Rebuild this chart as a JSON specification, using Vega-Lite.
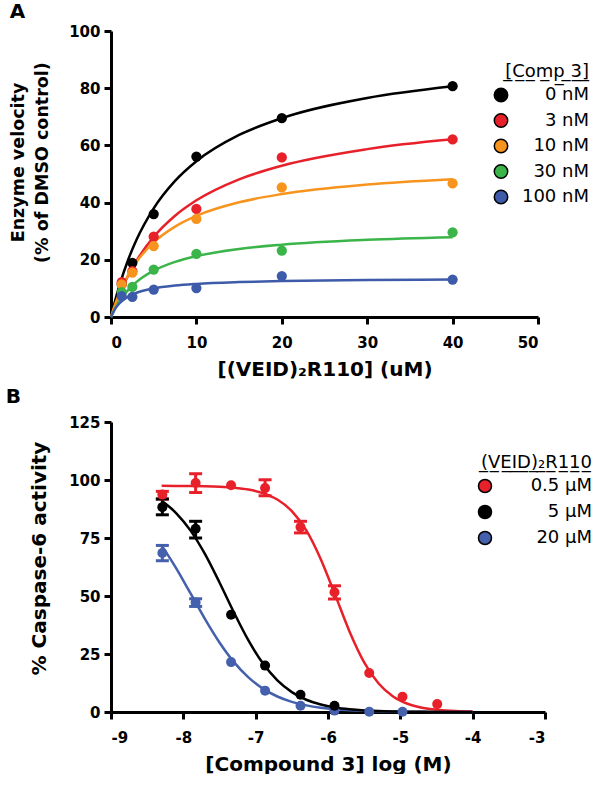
{
  "$schema": "https://vega.github.io/schema/vega-lite/v6.json",
  "padding": {"left": 5, "top": 2, "right": 0, "bottom": 0},
  "background": "white",
  "spacing": 8,
  "resolve": {"scale": {"color": "independent", "fill": "independent"}, "legend": {"color": "independent", "fill": "independent"}},
  "config": {
    "view": {"stroke": null},
    "axis": {
      "grid": false,
      "domainColor": "black", "domainWidth": 3,
      "tickColor": "black", "tickWidth": 3, "tickSize": 7,
      "labelFont": "DejaVu Sans", "labelFontWeight": "bold", "labelFontSize": 15, "labelColor": "black", "labelPadding": 4,
      "titleFont": "DejaVu Sans", "titleFontWeight": "bold", "titleFontSize": 20, "titleColor": "black"
    },
    "axisX": {"labelPadding": 11, "titlePadding": 9},
    "legend": {
      "labelFont": "DejaVu Sans", "labelFontSize": 18, "labelColor": "black",
      "titleFont": "DejaVu Sans", "titleFontWeight": "normal", "titleFontSize": 18, "titleColor": "black"
    },
    "title": {"font": "DejaVu Sans", "fontSize": 20, "fontWeight": "bold", "color": "black", "anchor": "start"}
  },
  "datasets": {
    "curvesA": [
      {"s":0,"v":0,"cc":"0 nM"},{"s":0.5,"v":5.90,"cc":"0 nM"},{"s":1,"v":11.11,"cc":"0 nM"},{"s":2,"v":19.92,"cc":"0 nM"},{"s":3,"v":27.07,"cc":"0 nM"},{"s":5,"v":37.98,"cc":"0 nM"},{"s":7.5,"v":47.57,"cc":"0 nM"},{"s":10,"v":54.45,"cc":"0 nM"},{"s":15,"v":63.64,"cc":"0 nM"},{"s":20,"v":69.51,"cc":"0 nM"},{"s":30,"v":76.57,"cc":"0 nM"},{"s":40,"v":80.67,"cc":"0 nM"},
      {"s":0,"v":0,"cc":"3 nM"},{"s":0.5,"v":4.21,"cc":"3 nM"},{"s":1,"v":7.97,"cc":"3 nM"},{"s":2,"v":14.42,"cc":"3 nM"},{"s":3,"v":19.74,"cc":"3 nM"},{"s":5,"v":28.00,"cc":"3 nM"},{"s":7.5,"v":35.40,"cc":"3 nM"},{"s":10,"v":40.80,"cc":"3 nM"},{"s":15,"v":48.14,"cc":"3 nM"},{"s":20,"v":52.90,"cc":"3 nM"},{"s":30,"v":58.70,"cc":"3 nM"},{"s":40,"v":62.11,"cc":"3 nM"},
      {"s":0,"v":0,"cc":"10 nM"},{"s":0.5,"v":4.57,"cc":"10 nM"},{"s":1,"v":8.43,"cc":"10 nM"},{"s":2,"v":14.61,"cc":"10 nM"},{"s":3,"v":19.34,"cc":"10 nM"},{"s":5,"v":26.10,"cc":"10 nM"},{"s":7.5,"v":31.62,"cc":"10 nM"},{"s":10,"v":35.35,"cc":"10 nM"},{"s":15,"v":40.10,"cc":"10 nM"},{"s":20,"v":42.98,"cc":"10 nM"},{"s":30,"v":46.31,"cc":"10 nM"},{"s":40,"v":48.18,"cc":"10 nM"},
      {"s":0,"v":0,"cc":"30 nM"},{"s":0.5,"v":3.05,"cc":"30 nM"},{"s":1,"v":5.55,"cc":"30 nM"},{"s":2,"v":9.42,"cc":"30 nM"},{"s":3,"v":12.28,"cc":"30 nM"},{"s":5,"v":16.20,"cc":"30 nM"},{"s":7.5,"v":19.28,"cc":"30 nM"},{"s":10,"v":21.30,"cc":"30 nM"},{"s":15,"v":23.80,"cc":"30 nM"},{"s":20,"v":25.28,"cc":"30 nM"},{"s":30,"v":26.97,"cc":"30 nM"},{"s":40,"v":27.89,"cc":"30 nM"},
      {"s":0,"v":0,"cc":"100 nM"},{"s":0.5,"v":2.93,"cc":"100 nM"},{"s":1,"v":4.82,"cc":"100 nM"},{"s":2,"v":7.14,"cc":"100 nM"},{"s":3,"v":8.49,"cc":"100 nM"},{"s":5,"v":10.01,"cc":"100 nM"},{"s":7.5,"v":11.00,"cc":"100 nM"},{"s":10,"v":11.57,"cc":"100 nM"},{"s":15,"v":12.20,"cc":"100 nM"},{"s":20,"v":12.55,"cc":"100 nM"},{"s":30,"v":12.91,"cc":"100 nM"},{"s":40,"v":13.10,"cc":"100 nM"}
    ],
    "pointsA": [
      {"s":1.25,"v":11.5,"c":"0 nM"},{"s":2.5,"v":18.9,"c":"0 nM"},{"s":5,"v":36.0,"c":"0 nM"},{"s":10,"v":56.1,"c":"0 nM"},{"s":20,"v":69.5,"c":"0 nM"},{"s":40,"v":80.7,"c":"0 nM"},
      {"s":1.25,"v":12.2,"c":"3 nM"},{"s":2.5,"v":16.0,"c":"3 nM"},{"s":5,"v":28.1,"c":"3 nM"},{"s":10,"v":37.8,"c":"3 nM"},{"s":20,"v":55.8,"c":"3 nM"},{"s":40,"v":62.1,"c":"3 nM"},
      {"s":1.25,"v":11.4,"c":"10 nM"},{"s":2.5,"v":15.5,"c":"10 nM"},{"s":5,"v":24.8,"c":"10 nM"},{"s":10,"v":34.3,"c":"10 nM"},{"s":20,"v":45.3,"c":"10 nM"},{"s":40,"v":46.7,"c":"10 nM"},
      {"s":1.25,"v":8.7,"c":"30 nM"},{"s":2.5,"v":10.5,"c":"30 nM"},{"s":5,"v":16.6,"c":"30 nM"},{"s":10,"v":22.1,"c":"30 nM"},{"s":20,"v":23.2,"c":"30 nM"},{"s":40,"v":29.6,"c":"30 nM"},
      {"s":1.25,"v":7.3,"c":"100 nM"},{"s":2.5,"v":7.0,"c":"100 nM"},{"s":5,"v":9.6,"c":"100 nM"},{"s":10,"v":10.1,"c":"100 nM"},{"s":20,"v":14.3,"c":"100 nM"},{"s":40,"v":13.1,"c":"100 nM"}
    ],
    "curvesB": [
      {"x":-8.3,"y":97.47,"gg":"0.5 μM"},{"x":-8.1,"y":97.44,"gg":"0.5 μM"},{"x":-7.9,"y":97.39,"gg":"0.5 μM"},{"x":-7.7,"y":97.28,"gg":"0.5 μM"},{"x":-7.5,"y":97.07,"gg":"0.5 μM"},{"x":-7.3,"y":96.66,"gg":"0.5 μM"},{"x":-7.1,"y":95.87,"gg":"0.5 μM"},{"x":-6.9,"y":94.37,"gg":"0.5 μM"},{"x":-6.7,"y":91.57,"gg":"0.5 μM"},{"x":-6.5,"y":86.57,"gg":"0.5 μM"},{"x":-6.3,"y":78.25,"gg":"0.5 μM"},{"x":-6.1,"y":65.88,"gg":"0.5 μM"},{"x":-5.9,"y":50.39,"gg":"0.5 μM"},{"x":-5.7,"y":34.53,"gg":"0.5 μM"},{"x":-5.5,"y":21.40,"gg":"0.5 μM"},{"x":-5.3,"y":12.29,"gg":"0.5 μM"},{"x":-5.1,"y":6.71,"gg":"0.5 μM"},{"x":-4.9,"y":3.56,"gg":"0.5 μM"},{"x":-4.7,"y":1.86,"gg":"0.5 μM"},{"x":-4.5,"y":0.96,"gg":"0.5 μM"},{"x":-4.3,"y":0.50,"gg":"0.5 μM"},{"x":-4.0,"y":0.18,"gg":"0.5 μM"},
      {"x":-8.3,"y":71.84,"gg":"20 μM"},{"x":-8.1,"y":62.03,"gg":"20 μM"},{"x":-7.9,"y":51.10,"gg":"20 μM"},{"x":-7.7,"y":40.06,"gg":"20 μM"},{"x":-7.5,"y":29.97,"gg":"20 μM"},{"x":-7.3,"y":21.48,"gg":"20 μM"},{"x":-7.1,"y":14.90,"gg":"20 μM"},{"x":-6.9,"y":10.07,"gg":"20 μM"},{"x":-6.7,"y":6.68,"gg":"20 μM"},{"x":-6.5,"y":4.38,"gg":"20 μM"},{"x":-6.3,"y":2.85,"gg":"20 μM"},{"x":-6.1,"y":1.84,"gg":"20 μM"},{"x":-5.9,"y":1.18,"gg":"20 μM"},{"x":-5.7,"y":0.76,"gg":"20 μM"},{"x":-5.5,"y":0.49,"gg":"20 μM"},{"x":-5.3,"y":0.31,"gg":"20 μM"},{"x":-5.1,"y":0.20,"gg":"20 μM"},{"x":-4.9,"y":0.13,"gg":"20 μM"},{"x":-4.7,"y":0.08,"gg":"20 μM"},{"x":-4.5,"y":0.05,"gg":"20 μM"},{"x":-4.3,"y":0.03,"gg":"20 μM"},{"x":-4.0,"y":0.02,"gg":"20 μM"},
      {"x":-8.3,"y":91.02,"gg":"5 μM"},{"x":-8.1,"y":85.76,"gg":"5 μM"},{"x":-7.9,"y":78.18,"gg":"5 μM"},{"x":-7.7,"y":68.03,"gg":"5 μM"},{"x":-7.5,"y":55.84,"gg":"5 μM"},{"x":-7.3,"y":42.90,"gg":"5 μM"},{"x":-7.1,"y":30.87,"gg":"5 μM"},{"x":-6.9,"y":20.98,"gg":"5 μM"},{"x":-6.7,"y":13.62,"gg":"5 μM"},{"x":-6.5,"y":8.57,"gg":"5 μM"},{"x":-6.3,"y":5.28,"gg":"5 μM"},{"x":-6.1,"y":3.21,"gg":"5 μM"},{"x":-5.9,"y":1.93,"gg":"5 μM"},{"x":-5.7,"y":1.16,"gg":"5 μM"},{"x":-5.5,"y":0.69,"gg":"5 μM"},{"x":-5.3,"y":0.41,"gg":"5 μM"},{"x":-5.1,"y":0.25,"gg":"5 μM"},{"x":-4.9,"y":0.15,"gg":"5 μM"},{"x":-4.7,"y":0.09,"gg":"5 μM"},{"x":-4.5,"y":0.05,"gg":"5 μM"},{"x":-4.3,"y":0.03,"gg":"5 μM"},{"x":-4.0,"y":0.01,"gg":"5 μM"}
    ],
    "pointsB": [
      {"x":-8.29,"y":93.7,"lo":91.8,"hi":95.1,"g":"0.5 μM"},{"x":-7.83,"y":98.7,"lo":94.6,"hi":102.7,"g":"0.5 μM"},{"x":-7.34,"y":97.7,"g":"0.5 μM"},{"x":-6.87,"y":96.5,"lo":93.2,"hi":100.1,"g":"0.5 μM"},{"x":-6.38,"y":79.7,"lo":77.2,"hi":82.2,"g":"0.5 μM"},{"x":-5.91,"y":51.6,"lo":48.7,"hi":54.4,"g":"0.5 μM"},{"x":-5.43,"y":16.8,"g":"0.5 μM"},{"x":-4.97,"y":6.6,"g":"0.5 μM"},{"x":-4.49,"y":3.4,"g":"0.5 μM"},
      {"x":-8.29,"y":68.5,"lo":65.2,"hi":71.8,"g":"20 μM"},{"x":-7.83,"y":47.2,"lo":45.5,"hi":48.8,"g":"20 μM"},{"x":-7.34,"y":21.5,"g":"20 μM"},{"x":-6.87,"y":9.2,"g":"20 μM"},{"x":-6.38,"y":2.7,"g":"20 μM"},{"x":-5.91,"y":0.6,"g":"20 μM"},{"x":-5.43,"y":0.1,"g":"20 μM"},{"x":-4.97,"y":0.1,"g":"20 μM"},
      {"x":-8.29,"y":88.3,"lo":85.0,"hi":91.8,"g":"5 μM"},{"x":-7.83,"y":79.0,"lo":75.0,"hi":82.2,"g":"5 μM"},{"x":-7.34,"y":41.9,"g":"5 μM"},{"x":-6.87,"y":20.0,"g":"5 μM"},{"x":-6.38,"y":7.4,"g":"5 μM"},{"x":-5.91,"y":2.7,"g":"5 μM"}
    ]
  },
  "vconcat": [
    {
      "title": {"text": "A", "offset": 2},
      "width": 427,
      "height": 286,
      "layer": [
        {
          "data": {"name": "curvesA"},
          "mark": {"type": "line", "strokeWidth": 2.5, "interpolate": "monotone"},
          "encoding": {
            "x": {"field": "s", "type": "quantitative", "scale": {"domain": [0, 50], "nice": false, "zero": false},
                  "axis": {"title": "[(VEID)₂R110] (uM)", "values": [0, 10, 20, 30, 40, 50]}},
            "y": {"field": "v", "type": "quantitative", "scale": {"domain": [0, 100], "nice": false},
                  "axis": {"title": ["Enzyme velocity", "(% of DMSO control)"], "titleFontSize": 17.5, "titleLineHeight": 24, "titleY": 131, "titlePadding": 17, "values": [0, 20, 40, 60, 80, 100]}},
            "color": {"field": "cc", "type": "nominal", "legend": null,
                      "scale": {"domain": ["3 nM", "0 nM", "10 nM", "30 nM", "100 nM"], "range": ["#E8202A", "#000000", "#F7941E", "#3BB44A", "#3E5BA9"]}},
            "order": {"field": "s", "type": "quantitative"}
          }
        },
        {
          "data": {"name": "pointsA"},
          "mark": {"type": "circle", "size": 105, "opacity": 1},
          "encoding": {
            "x": {"field": "s", "type": "quantitative"},
            "y": {"field": "v", "type": "quantitative"},
            "fill": {"field": "c", "type": "nominal",
                     "scale": {"domain": ["0 nM", "3 nM", "10 nM", "30 nM", "100 nM"], "range": ["#000000", "#E8202A", "#F7941E", "#3BB44A", "#3E5BA9"]},
                     "legend": {
                       "title": "[̲C̲o̲m̲p̲ ̲3̲]̲",
                       "orient": "none", "legendX": 381, "legendY": 32, "padding": 0,
                       "symbolType": "circle", "symbolSize": 180, "symbolStrokeColor": "black", "symbolStrokeWidth": 1.5, "symbolOpacity": 1,
                       "labelAlign": "right", "labelOffset": 79, "titleAnchor": "end", "rowPadding": 5.5, "titlePadding": 5,
                       "encode": {"symbols": {"update": {"stroke": {"value": "black"}, "strokeWidth": {"value": 1.5}}}}
                     }}
          }
        }
      ]
    },
    {
      "title": {"text": "B", "offset": 8, "dx": -24},
      "width": 434,
      "height": 290,
      "layer": [
        {
          "data": {"name": "curvesB"},
          "mark": {"type": "line", "strokeWidth": 2.5, "interpolate": "monotone"},
          "encoding": {
            "x": {"field": "x", "type": "quantitative", "scale": {"domain": [-9, -3], "nice": false, "zero": false},
                  "axis": {"title": "[Compound 3] log (M)", "values": [-9, -8, -7, -6, -5, -4, -3], "labelExpr": "'' + datum.value"}},
            "y": {"field": "y", "type": "quantitative", "scale": {"domain": [0, 125], "nice": false},
                  "axis": {"title": "% Caspase-6 activity", "titleY": 136, "titlePadding": 19, "values": [0, 25, 50, 75, 100, 125]}},
            "color": {"field": "gg", "type": "nominal", "legend": null,
                      "scale": {"domain": ["5 μM", "0.5 μM", "20 μM"], "range": ["#000000", "#E8202A", "#4560AC"]}},
            "order": {"field": "x", "type": "quantitative"}
          }
        },
        {
          "data": {"name": "pointsB"},
          "mark": {"type": "rule", "strokeWidth": 3},
          "encoding": {
            "x": {"field": "x", "type": "quantitative"},
            "y": {"field": "lo", "type": "quantitative"},
            "y2": {"field": "hi"},
            "stroke": {"field": "g", "type": "nominal", "legend": null,
                       "scale": {"domain": ["20 μM", "5 μM", "0.5 μM"], "range": ["#4560AC", "#000000", "#E8202A"]}}
          }
        },
        {
          "data": {"name": "pointsB"},
          "mark": {"type": "point", "shape": "M -1 0 L 1 0", "size": 169, "strokeWidth": 3, "filled": false, "opacity": 1},
          "encoding": {
            "x": {"field": "x", "type": "quantitative"},
            "y": {"field": "lo", "type": "quantitative"},
            "stroke": {"field": "g", "type": "nominal", "legend": null}
          }
        },
        {
          "data": {"name": "pointsB"},
          "mark": {"type": "point", "shape": "M -1 0 L 1 0", "size": 169, "strokeWidth": 3, "filled": false, "opacity": 1},
          "encoding": {
            "x": {"field": "x", "type": "quantitative"},
            "y": {"field": "hi", "type": "quantitative"},
            "stroke": {"field": "g", "type": "nominal", "legend": null}
          }
        },
        {
          "data": {"name": "pointsB"},
          "mark": {"type": "circle", "size": 100, "opacity": 1},
          "encoding": {
            "x": {"field": "x", "type": "quantitative"},
            "y": {"field": "y", "type": "quantitative"},
            "fill": {"field": "g", "type": "nominal",
                     "scale": {"domain": ["0.5 μM", "5 μM", "20 μM"], "range": ["#E8202A", "#000000", "#4560AC"]},
                     "legend": {
                       "title": "(̲V̲E̲I̲D̲)̲₂̲R̲1̲1̲0̲",
                       "orient": "none", "legendX": 365, "legendY": 32, "padding": 0,
                       "symbolType": "circle", "symbolSize": 170, "symbolStrokeColor": "black", "symbolStrokeWidth": 1.5, "symbolOpacity": 1,
                       "labelAlign": "right", "labelOffset": 98, "titleAnchor": "end", "rowPadding": 6, "titlePadding": 5,
                       "encode": {"symbols": {"update": {"stroke": {"value": "black"}, "strokeWidth": {"value": 1.5}}}}
                     }}
          }
        }
      ]
    }
  ]
}
